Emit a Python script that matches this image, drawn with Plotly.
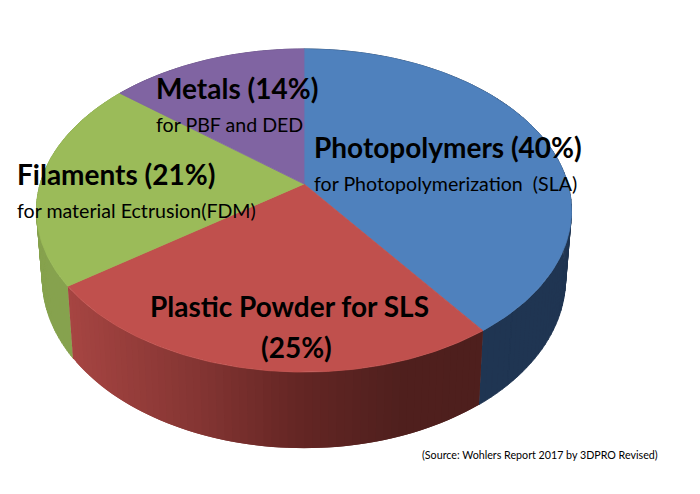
import numpy as np
import plotly.graph_objects as go

categories = ["Photopolymers", "Plastic Powder", "Filaments", "Metals"]
shares = [40, 25, 21, 14]
top_colors = ["#4F81BD", "#C0504D", "#9BBB59", "#8064A2"]
side_colors = ["#1F3552", None, "#86A24E", "#5E4A78"]
red_side_x = [70, 200, 300, 400, 490]
red_side_rgb = [(166, 69, 66), (132, 53, 51), (100, 38, 36), (80, 32, 30), (78, 31, 29)]

CX, TOP_Y, BASE_Y = 304.0, 184.0, 250.8
R, B_TOP, B_BASE, K, S = 263.9, 157.2, 165.0, 0.164, 0.978


def project(t_deg, base=False):
    t = np.radians(t_deg)
    u, v = np.sin(t), np.cos(t)
    d = 1 + K * v
    if base:
        return CX + S * R * u / d, BASE_Y - B_BASE * v / d
    return CX + R * u / d, TOP_Y - B_TOP * v / d


def poly(xs, ys, color, lw=0.8):
    return go.Scatter(x=list(xs), y=list(ys), mode="lines", fill="toself", fillcolor=color,
                      line=dict(color=color, width=lw), hoverinfo="skip", showlegend=False)


def wall_quad(t):
    x1, y1 = project(t)
    x2, y2 = project(t[::-1], base=True)
    return np.r_[x1, x2, x1[0]], np.r_[y1, y2, y1[0]]


edges = np.cumsum([0] + shares) * 3.6
fig = go.Figure()

# side wall (the top face later covers whatever part faces away)
for i in [3, 2, 0, 1]:
    a, b = edges[i], edges[i + 1]
    if side_colors[i] is not None:
        tt = np.linspace(a, b, 90)
        xs, ys = [], []
        for t0, t1 in zip(tt[:-1], tt[1:]):
            qx, qy = wall_quad(np.array([t0, t1]))
            xs += list(qx) + [None]
            ys += list(qy) + [None]
        fig.add_trace(poly(xs, ys, side_colors[i]))
    else:
        tt = np.linspace(b, a, 61)
        for k in range(len(tt) - 1):
            qx, qy = wall_quad(np.linspace(tt[k], tt[-1] if k + 3 >= len(tt) else tt[k + 2], 4))
            xm = float(np.mean(project(tt[k:k + 2])[0]))
            rgb = [int(np.interp(xm, red_side_x, [c[j] for c in red_side_rgb])) for j in range(3)]
            fig.add_trace(poly(qx, qy, f"rgb({rgb[0]},{rgb[1]},{rgb[2]})", lw=0))

# top face
for i in range(4):
    t = np.linspace(edges[i], edges[i + 1], 120)
    x, y = project(t)
    fig.add_trace(poly(np.r_[CX, x, CX], np.r_[TOP_Y, y, TOP_Y], top_colors[i]))

FONT = "Lato"
labels = [
    (154, 88, "<b>Metals (14%)</b>", 28, "left"),
    (154, 124, "for PBF and DED", 19.6, "left"),
    (312, 147, "<b>Photopolymers (40%)</b>", 28, "left"),
    (312, 183, "for Photopolymerization  (SLA)", 19.6, "left"),
    (15, 174, "<b>Filaments (21%)</b>", 28, "left"),
    (15, 210, "for material Ectrusion(FDM)", 19.6, "left"),
    (289, 306, "<b>Plastic Powder for SLS</b>", 28, "center"),
    (296, 347, "<b>(25%)</b>", 28, "center"),
    (420, 454, "(Source: Wohlers Report 2017 by 3DPRO Revised)", 10.7, "left"),
]
for x, y, text, size, anchor in labels:
    fig.add_annotation(x=x, y=y, text=text, showarrow=False, xanchor=anchor, yanchor="middle",
                       font=dict(family=FONT, size=size, color="#000000"))

# the page body has an 8 px margin, so the axes start at 8 to stay on the reference's pixels
fig.update_layout(
    width=692, height=486, margin=dict(l=0, r=0, t=0, b=0),
    paper_bgcolor="white", plot_bgcolor="white", showlegend=False,
    xaxis=dict(range=[8, 700], visible=False, fixedrange=True),
    yaxis=dict(range=[494, 8], visible=False, fixedrange=True),
)
fig.write_html("out.html", config=dict(displayModeBar=False))
